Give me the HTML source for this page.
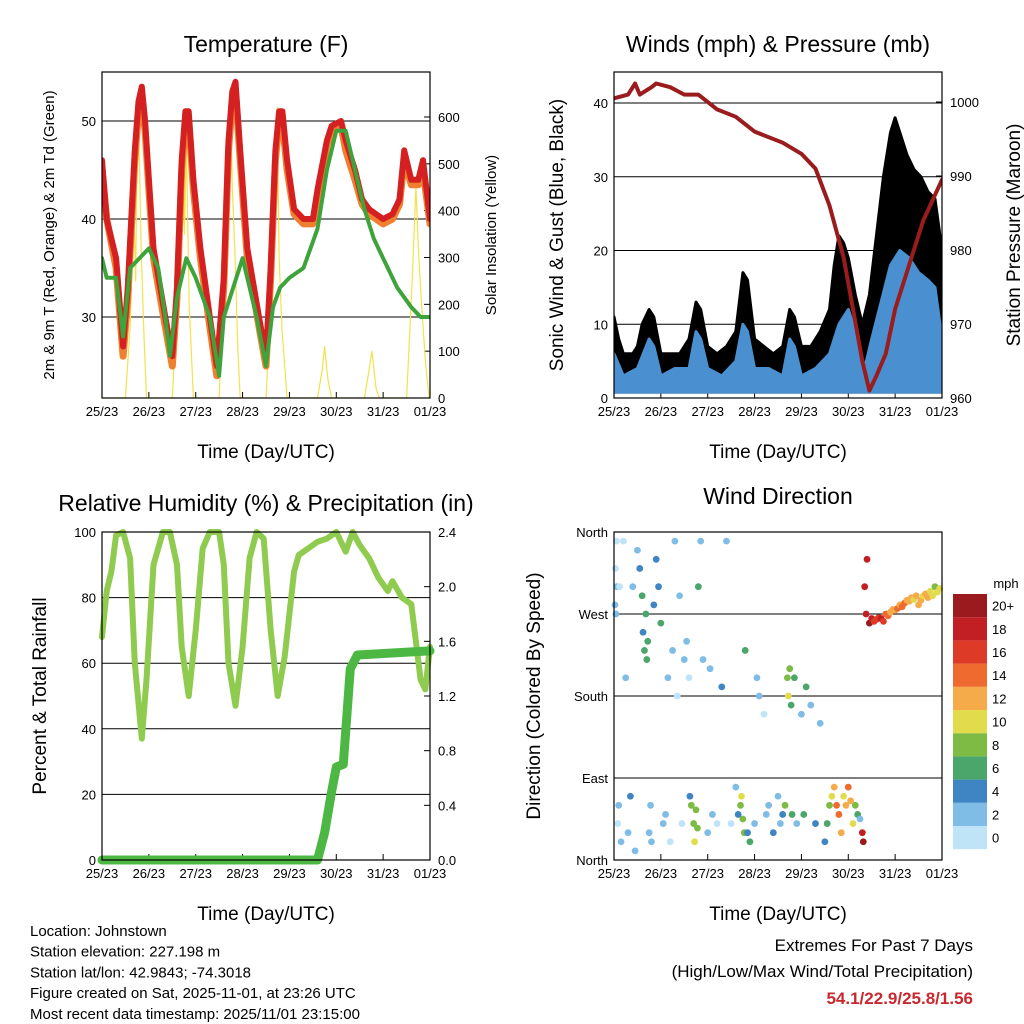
<!DOCTYPE html>
<html><head><meta charset="utf-8"><style>
html,body{margin:0;padding:0;background:#fff;}
svg{display:block;font-family:"Liberation Sans",sans-serif;}
</style></head><body>
<svg id="c" width="1024" height="1024" viewBox="0 0 1024 1024"></svg>
<script>
// ---------- data ----------
const dayLabels=["25/23","26/23","27/23","28/23","29/23","30/23","31/23","01/23"];
const tempTicks=[30,40,50];
const solarTicks=[0,100,200,300,400,500,600];
const windTicks=[0,10,20,30,40];
const presTicks=[960,970,980,990,1000];
const rhTicks=[0,20,40,60,80,100];
const rainTicks=["0.0","0.4","0.8","1.2","1.6","2.0","2.4"];
const dirTicks=["North","East","South","West","North"];
const speedBins=["0","2","4","6","8","10","12","14","16","18","20+"];
const speedColors=["#bfe4f7","#7fbde6","#3f85c3","#4aa66b","#7dbb45","#e2dc4c","#f6ab4b","#ef6a2e","#de3a28","#c11f24","#9a1a1d"];

const redT=[[0,46],[0.1,40],[0.3,36],[0.45,27],[0.55,33],[0.7,47],[0.78,52],[0.85,53.5],[0.92,50],[1.0,44],[1.1,37],[1.35,30],[1.5,26],[1.6,33],[1.7,46],[1.78,51],[1.85,51],[1.95,44],[2.1,37],[2.3,30],[2.45,25],[2.6,34],[2.7,48],[2.78,53],[2.85,54],[2.95,47],[3.1,37],[3.35,30],[3.5,26],[3.6,35],[3.7,47],[3.78,51],[3.85,51],[3.95,46],[4.1,41],[4.3,40],[4.5,40],[4.6,43],[4.8,48],[4.9,49.5],[5.1,50],[5.2,48],[5.4,45],[5.55,42],[5.7,41],[6.0,40],[6.2,40.5],[6.35,42],[6.45,47],[6.6,44],[6.75,44],[6.85,46],[7,40]];
const orangeT=[[0,45],[0.1,40],[0.3,35],[0.45,26],[0.55,32],[0.7,46],[0.78,51],[0.85,52],[0.92,49],[1.0,43],[1.1,36],[1.35,29],[1.5,25],[1.6,32],[1.7,45],[1.78,50],[1.85,50],[1.95,43],[2.1,36],[2.3,29],[2.45,24],[2.6,33],[2.7,47],[2.78,52],[2.85,53],[2.95,46],[3.1,36],[3.35,29],[3.5,25],[3.6,34],[3.7,46],[3.78,50],[3.85,50],[3.95,45],[4.1,40.5],[4.3,39.5],[4.5,39.5],[4.6,42.5],[4.8,47.5],[4.9,49],[5.1,49.5],[5.2,47],[5.4,44],[5.55,41.5],[5.7,40.5],[6.0,39.5],[6.2,40],[6.35,41.5],[6.45,46],[6.6,43.5],[6.75,43.5],[6.85,45],[7,39.5]];
const greenTd=[[0,36],[0.1,34],[0.3,34],[0.45,28],[0.6,35],[0.8,36],[1.0,37],[1.2,35],[1.35,30],[1.45,26],[1.6,32],[1.8,36],[2.0,34],[2.3,30],[2.5,24],[2.6,30],[2.8,33],[3.0,36],[3.3,30],[3.5,25],[3.65,31],[3.8,33],[4.0,34],[4.3,35],[4.6,39],[4.8,45],[5.0,49],[5.2,49],[5.4,45],[5.6,41],[5.8,38],[6.0,36],[6.3,33],[6.6,31],[6.8,30],[7,30]];
const solar=[[0,0],[0.5,0],[0.6,150],[0.68,400],[0.72,250],[0.76,650],[0.8,500],[0.84,300],[0.9,120],[0.95,0],[1.5,0],[1.6,200],[1.68,450],[1.72,600],[1.76,350],[1.8,550],[1.86,200],[1.95,0],[2.5,0],[2.6,250],[2.68,500],[2.74,660],[2.78,450],[2.84,300],[2.9,100],[2.95,0],[3.5,0],[3.6,200],[3.68,500],[3.74,620],[3.78,300],[3.84,150],[3.95,0],[4.6,0],[4.7,60],[4.75,110],[4.82,40],[4.9,0],[5.6,0],[5.7,60],[5.76,100],[5.85,20],[5.92,0],[6.5,0],[6.62,250],[6.7,450],[6.76,300],[6.82,200],[6.9,80],[6.98,0]];

const gust=[[0,11],[0.1,8],[0.2,6],[0.4,6],[0.5,7],[0.6,10],[0.75,12],[0.85,11],[1.0,6],[1.2,6],[1.4,6],[1.6,8],[1.75,13],[1.85,12],[2.0,7],[2.2,6],[2.4,7],[2.6,9],[2.75,17],[2.85,16],[3.0,8],[3.2,7],[3.4,6],[3.6,7],[3.75,12],[3.85,11],[4.0,7],[4.2,7],[4.4,9],[4.6,12],[4.7,18],[4.8,22],[4.9,21],[5.0,19],[5.15,14],[5.3,10],[5.45,14],[5.6,22],[5.75,30],[5.9,36],[6.0,38],[6.1,36],[6.25,33],[6.4,31],[6.55,30],[6.7,28],[6.85,27],[7,20]];
const wind=[[0,6],[0.2,3],[0.5,4],[0.75,8],[0.85,7],[1.0,3],[1.3,4],[1.6,4],[1.75,9],[1.85,8],[2.0,4],[2.3,3],[2.6,5],[2.75,10],[2.85,9],[3.0,4],[3.3,4],[3.6,3],[3.75,8],[3.85,7],[4.0,3],[4.3,4],[4.6,6],[4.8,10],[5.0,12],[5.2,8],[5.35,4],[5.5,8],[5.7,13],[5.9,18],[6.1,20],[6.3,19],[6.5,17],[6.7,16],[6.85,15],[7,8]];
const pressure=[[0,1000.5],[0.3,1001],[0.45,1002.5],[0.55,1001],[0.8,1002],[0.9,1002.5],[1.2,1002],[1.5,1001],[1.8,1001],[2.2,999],[2.6,998],[3.0,996],[3.2,995.5],[3.6,994.5],[4.0,993],[4.3,991],[4.6,986],[4.9,979],[5.1,972],[5.3,965],[5.45,961],[5.6,963],[5.8,966],[6.0,972],[6.3,978],[6.6,984],[7,989.5]];

const rh=[[0,68],[0.1,82],[0.2,88],[0.3,99],[0.45,100],[0.6,92],[0.7,60],[0.85,37],[0.95,55],[1.1,90],[1.3,100],[1.45,100],[1.6,90],[1.7,65],[1.85,50],[2.0,70],[2.15,95],[2.3,100],[2.5,100],[2.6,90],[2.7,60],[2.85,47],[3.0,65],[3.15,92],[3.3,100],[3.45,98],[3.6,70],[3.75,50],[3.9,62],[4.1,88],[4.2,93],[4.4,95],[4.6,97],[4.8,98],[5.0,100],[5.2,94],[5.35,100],[5.5,96],[5.7,92],[5.9,86],[6.1,82],[6.2,85],[6.4,80],[6.6,78],[6.8,55],[6.9,52],[7,65]];
const rain=[[0,0],[4.6,0],[4.75,0.2],[4.9,0.5],[5.0,0.68],[5.15,0.7],[5.3,1.4],[5.45,1.5],[7,1.53]];

const dirT=[0.02,0.03,0.04,0.05,0.06,0.08,0.1,0.12,0.15,0.2,0.25,0.3,0.35,0.4,0.45,0.5,0.55,0.6,0.62,0.65,0.68,0.7,0.72,0.75,0.78,0.8,0.85,0.9,0.95,1.0,1.05,1.1,1.15,1.2,1.25,1.3,1.35,1.4,1.45,1.5,1.55,1.6,1.62,1.65,1.7,1.72,1.75,1.78,1.8,1.85,1.9,2.0,2.05,2.1,2.2,2.3,2.4,2.5,2.6,2.65,2.7,2.72,2.75,2.78,2.8,2.85,2.9,3.0,3.05,3.1,3.2,3.25,3.3,3.4,3.5,3.55,3.6,3.65,3.7,3.72,3.75,3.78,3.8,3.85,3.9,4.0,4.05,4.1,4.2,4.3,4.4,4.5,4.55,4.6,4.65,4.7,4.75,4.8,4.85,4.9,4.95,5.0,5.05,5.1,5.15,5.2,5.25,5.3,5.32,5.35,5.38,5.4,5.45,5.5,5.55,5.6,5.65,5.7,5.75,5.8,5.85,5.9,5.95,6.0,6.05,6.1,6.15,6.2,6.25,6.3,6.35,6.4,6.45,6.5,6.55,6.6,6.65,6.7,6.75,6.8,6.85,6.9,6.95];
const dirV=[280,320,270,350,300,40,60,300,20,350,200,30,70,300,10,340,320,290,250,230,270,220,240,30,60,20,280,330,300,260,40,50,200,20,230,350,180,290,40,220,240,200,70,60,40,20,55,35,300,350,220,30,210,50,40,190,350,40,80,50,60,70,45,30,230,30,20,40,200,180,160,50,60,30,70,40,50,60,200,180,210,170,50,200,40,160,50,190,170,40,150,20,40,60,70,80,60,50,30,70,60,80,65,40,60,50,45,30,20,300,270,330,260,265,262,264,266,265,262,270,268,272,275,274,276,280,278,282,285,284,288,286,290,280,285,290,292,288,295,290,300,294,298,296,300];
const dirS=[2,1,2,1,2,1,2,1,2,1,2,3,4,3,2,2,5,6,5,6,6,7,6,2,3,2,4,4,5,6,2,3,2,1,3,2,1,3,1,2,2,1,4,8,9,10,8,9,7,2,2,2,3,2,1,4,2,1,3,5,9,10,9,8,6,5,6,2,3,2,1,2,3,4,2,3,5,8,9,10,8,7,7,6,2,3,7,6,2,4,3,5,6,8,11,13,15,14,12,11,13,14,12,11,9,7,3,19,20,19,18,19,20,18,17,16,17,18,16,15,14,13,12,13,14,12,15,14,13,12,13,11,12,13,12,11,12,13,11,10,9,10,11,12];

// ---------- drawing ----------
const svg=document.getElementById('c');
const NS='http://www.w3.org/2000/svg';
function mk(tag,attrs,name,parent){
  const el=document.createElementNS(NS,tag);
  for(const k in attrs) el.setAttribute(k,attrs[k]);
  
  
  (parent||svg).appendChild(el);
  return el;
}
function txt(x,y,s,opts,name){
  const t=mk('text',Object.assign({x:x,y:y,'font-size':13,fill:'#000'},opts||{}),name);
  t.textContent=s;return t;
}
function lin(d0,d1,r0,r1){return v=>r0+(v-d0)*(r1-r0)/(d1-d0);}
function path(pts,xs,ys,attrs,name,g){
  const d=pts.map((p,i)=>(i?'L':'M')+xs(p[0]).toFixed(1)+','+ys(p[1]).toFixed(1)).join('');
  return mk('path',Object.assign({d:d,fill:'none','stroke-linejoin':'round','stroke-linecap':'round'},attrs),name,g);
}
function band(top,bottom,xs,ys,attrs,name,g){
  const a=top.map(p=>xs(p[0]).toFixed(1)+','+ys(p[1]).toFixed(1));
  const b=bottom.slice().reverse().map(p=>xs(p[0]).toFixed(1)+','+ys(p[1]).toFixed(1));
  return mk('polygon',Object.assign({points:a.concat(b).join(' ')},attrs),name,g);
}
function frame(x0,x1,y0,y1,name){
  mk('rect',{x:x0,y:y0,width:x1-x0,height:y1-y0,fill:'none',stroke:'#000','stroke-width':1.2},name);
}
function xAxis(x0,x1,y1,pfx){
  const xs=lin(0,7,x0,x1);
  dayLabels.forEach((l,i)=>{
    mk('line',{x1:xs(i),x2:xs(i),y1:y1,y2:y1-6,stroke:'#000'},pfx+'-x-tick');
    txt(xs(i),y1+18,l,{'text-anchor':'middle'},pfx+'-x-tick-label');
  });
  txt((x0+x1)/2,y1+60,'Time (Day/UTC)',{'text-anchor':'middle','font-size':19},pfx+'-x-axis-title');
  return xs;
}
function clip(id,x0,x1,y0,y1){
  const cp=mk('clipPath',{id:id},id);
  mk('rect',{x:x0,y:y0,width:x1-x0,height:y1-y0},id+'-rect',cp);
  return mk('g',{'clip-path':'url(#'+id+')'},id+'-group');
}

// ---- Panel 1: Temperature ----
(function(){
  const x0=102,x1=430,y0=72,y1=398;
  const ys=lin(30,50,317,121), ysr=lin(0,600,398,117);
  const xs=xAxis(x0,x1,y1,'temp');
  tempTicks.forEach(v=>{mk('line',{x1:x0,x2:x1,y1:ys(v),y2:ys(v),stroke:'#000','stroke-width':1},'temp-gridline');
    txt(x0-6,ys(v)+5,String(v),{'text-anchor':'end'},'temp-y-tick-label');});
  solarTicks.forEach(v=>{mk('line',{x1:x1,x2:x1-6,y1:ysr(v),y2:ysr(v),stroke:'#000'},'solar-tick');
    txt(x1+8,ysr(v)+5,String(v),{},'solar-tick-label');});
  const g=clip('temp-clip',x0,x1,y0,y1);
  path(solar,xs,ysr,{stroke:'#f3e24a','stroke-width':1.2},'solar-line',g);
  path(orangeT,xs,ys,{stroke:'#f08030','stroke-width':7},'temp-2m-line',g);
  path(redT,xs,ys,{stroke:'#d42020','stroke-width':6},'temp-9m-line',g);
  path(greenTd,xs,ys,{stroke:'#3da33a','stroke-width':4,'stroke-dasharray':'3 1'},'dewpoint-line',g);
  frame(x0,x1,y0,y1,'temp-frame');
  txt(266,52,'Temperature (F)',{'text-anchor':'middle','font-size':23},'temp-title');
  txt(0,0,'2m & 9m T (Red, Orange) & 2m Td (Green)',{'text-anchor':'middle','font-size':15,transform:'translate(54,235) rotate(-90)'},'temp-y-axis-title');
  txt(0,0,'Solar Insolation (Yellow)',{'text-anchor':'middle','font-size':15,transform:'translate(496,235) rotate(-90)'},'solar-y-axis-title');
})();

// ---- Panel 2: Winds & Pressure ----
(function(){
  const x0=614,x1=942,y0=72,y1=398;
  const ys=lin(0,40,398,103), ysr=lin(960,1000,398,102);
  const xs=xAxis(x0,x1,y1,'wind');
  windTicks.forEach(v=>{mk('line',{x1:x0,x2:x1,y1:ys(v),y2:ys(v),stroke:'#000'},'wind-gridline');
    txt(x0-6,ys(v)+5,String(v),{'text-anchor':'end'},'wind-y-tick-label');});
  presTicks.forEach(v=>{mk('line',{x1:x1,x2:x1-6,y1:ysr(v),y2:ysr(v),stroke:'#000'},'pressure-tick');
    txt(x1+8,ysr(v)+5,String(v),{},'pressure-tick-label');});
  const g=clip('wind-clip',x0,x1,y0,y1);
  const zero=[[0,0.8],[7,0.8]];
  band(gust,zero,xs,ys,{fill:'#000',stroke:'#000','stroke-width':3,'stroke-linejoin':'round'},'gust-band',g);
  band(wind,zero,xs,ys,{fill:'#4a90d0',stroke:'#4a90d0','stroke-width':3,'stroke-linejoin':'round'},'wind-band',g);
  path(pressure,xs,ysr,{stroke:'#9b1c1c','stroke-width':4},'pressure-line',g);
  frame(x0,x1,y0,y1,'wind-frame');
  txt(778,52,'Winds (mph) & Pressure (mb)',{'text-anchor':'middle','font-size':23},'wind-title');
  txt(0,0,'Sonic Wind & Gust (Blue, Black)',{'text-anchor':'middle','font-size':19,transform:'translate(563,235) rotate(-90)'},'wind-y-axis-title');
  txt(0,0,'Station Pressure (Maroon)',{'text-anchor':'middle','font-size':19,transform:'translate(1020,235) rotate(-90)'},'pressure-y-axis-title');
})();

// ---- Panel 3: RH & Precip ----
(function(){
  const x0=102,x1=430,y0=532,y1=860;
  const ys=lin(0,100,860,532), ysr=lin(0,2.4,860,532);
  const xs=xAxis(x0,x1,y1,'rh');
  rhTicks.forEach(v=>{mk('line',{x1:x0,x2:x1,y1:ys(v),y2:ys(v),stroke:'#000'},'rh-gridline');
    txt(x0-6,ys(v)+5,String(v),{'text-anchor':'end'},'rh-y-tick-label');});
  rainTicks.forEach(v=>{mk('line',{x1:x1,x2:x1-6,y1:ysr(+v),y2:ysr(+v),stroke:'#000'},'rain-tick');
    txt(x1+8,ysr(+v)+5,v,{},'rain-tick-label');});
  const g=clip('rh-clip',x0-5,x1+5,y0-5,y1+5);
  path(rh,xs,ys,{stroke:'#8fcb4f','stroke-width':6},'rh-line',g);
  path(rain,xs,ysr,{stroke:'#4cb843','stroke-width':9},'rain-line',g);
  frame(x0,x1,y0,y1,'rh-frame');
  txt(266,511,'Relative Humidity (%) & Precipitation (in)',{'text-anchor':'middle','font-size':23},'rh-title');
  txt(0,0,'Percent & Total Rainfall',{'text-anchor':'middle','font-size':19,transform:'translate(46,696) rotate(-90)'},'rh-y-axis-title');
})();

// ---- Panel 4: Wind direction ----
(function(){
  const x0=614,x1=942,y0=532,y1=860;
  const ys=lin(0,360,860,532);
  const xs=xAxis(x0,x1,y1,'dir');
  dirTicks.forEach((l,i)=>{const y=ys(i*90);
    mk('line',{x1:x0,x2:x1,y1:y,y2:y,stroke:'#000'},'dir-gridline');
    txt(x0-6,y+5,l,{'text-anchor':'end'},'dir-y-tick-label');});
  const g=clip('dir-clip',x0-4,x1+4,y0-4,y1+4);
  dirT.forEach((t,i)=>{
    const s=dirS[i]===undefined?10:dirS[i];
    const bin=Math.min(10,Math.floor(s/2));
    mk('circle',{cx:xs(t),cy:ys(dirV[i]),r:3.4,fill:speedColors[bin]},'dir-point',g);
  });
  frame(x0,x1,y0,y1,'dir-frame');
  txt(778,504,'Wind Direction',{'text-anchor':'middle','font-size':23},'dir-title');
  txt(0,0,'Direction (Colored By Speed)',{'text-anchor':'middle','font-size':19,transform:'translate(540,696) rotate(-90)'},'dir-y-axis-title');
  txt(1006,588,'mph',{'text-anchor':'middle'},'colorbar-title');
  const bh=23.2;
  for(let i=0;i<speedBins.length;i++){
    const y=594+(10-i)*bh;
    mk('rect',{x:953,y:y,width:34,height:bh,fill:speedColors[i]},'colorbar-swatch');
    txt(992,y+bh/2+5,speedBins[i],{},'colorbar-label');
  }
})();

// ---- footer text ----
["Location: Johnstown","Station elevation: 227.198 m","Station lat/lon: 42.9843; -74.3018","Figure created on Sat, 2025-11-01, at 23:26 UTC","Most recent data timestamp: 2025/11/01 23:15:00"].forEach((s,i)=>{
  txt(30,936+i*20.7,s,{'font-size':15},'station-info-line');
});
txt(973,951,'Extremes For Past 7 Days',{'text-anchor':'end','font-size':17},'extremes-title');
txt(973,977,'(High/Low/Max Wind/Total Precipitation)',{'text-anchor':'end','font-size':17},'extremes-subtitle');
txt(973,1004,'54.1/22.9/25.8/1.56',{'text-anchor':'end','font-size':17,'font-weight':'bold',fill:'#c8282e'},'extremes-values');
</script>
</body></html>
